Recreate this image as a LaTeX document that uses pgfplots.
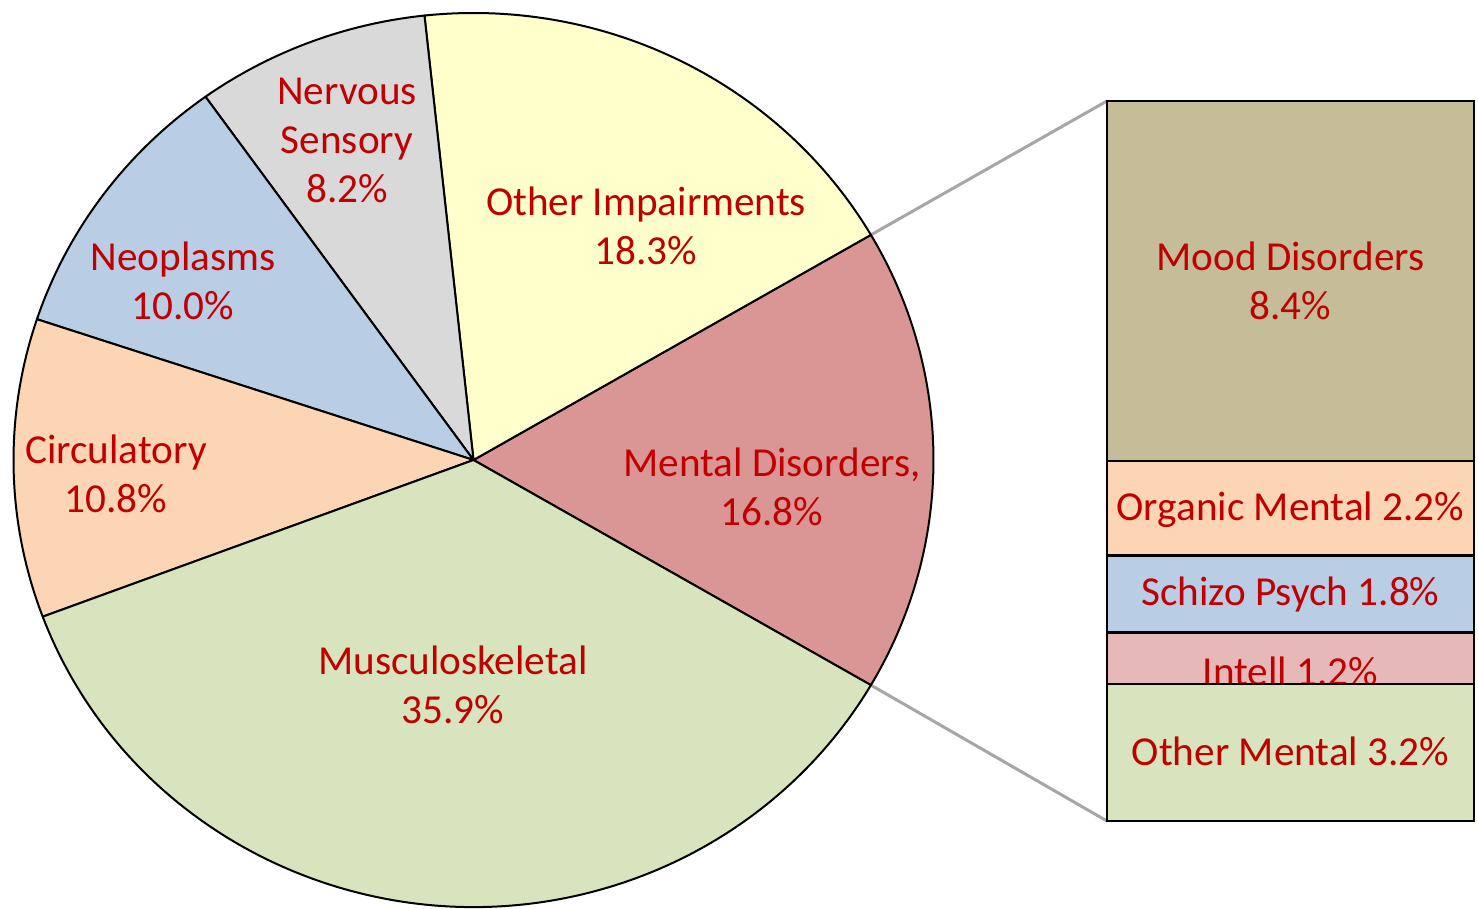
\documentclass[border=0pt]{standalone}
\usepackage{pgfplots}
\usepackage{pgfplotstable}
\pgfplotsset{compat=1.18}
\usepackage{fontspec}
\setmainfont{Carlito}
\definecolor{cMental}{HTML}{D99694}
\definecolor{cOther}{HTML}{FFFFCC}
\definecolor{cNerv}{HTML}{D9D9D9}
\definecolor{cNeo}{HTML}{B9CDE5}
\definecolor{cCirc}{HTML}{FCD5B5}
\definecolor{cMusc}{HTML}{D7E4BD}
\definecolor{cMood}{HTML}{C4BD97}
\definecolor{cOrg}{HTML}{FCD5B5}
\definecolor{cSchizo}{HTML}{B9CDE5}
\definecolor{cIntell}{HTML}{E6B9B8}
\definecolor{cOthM}{HTML}{D7E4BD}
\definecolor{txtred}{HTML}{C00000}
\definecolor{linkgray}{HTML}{A6A6A6}

% pie shares (percent), counter-clockwise starting with Mental Disorders
\pgfplotstableread[col sep=comma]{
label,value,color
Mental Disorders,16.8,cMental
Other Impairments,18.3,cOther
Nervous Sensory,8.2,cNerv
Neoplasms,10.0,cNeo
Circulatory,10.8,cCirc
Musculoskeletal,35.9,cMusc
}\pietable

\tikzset{lbl/.style={text=txtred, align=center, inner sep=0pt,
  font=\fontsize{20.6bp}{24.5bp}\selectfont}}

\begin{document}
\begin{tikzpicture}
\begin{axis}[name=pie, scale only axis, width=739bp, height=454.5bp,
  xmin=0, xmax=1478, ymin=0, ymax=909, y dir=reverse,
  axis lines=none, xtick=\empty, ytick=\empty, clip=false]
  \path (axis cs:0,0) (axis cs:1478,909);
  % connector lines
  \draw[linkgray, line width=1.5bp] (axis cs:870.9,234.9) -- (axis cs:1107,101);
  \draw[linkgray, line width=1.5bp] (axis cs:870.9,685.1) -- (axis cs:1107,821);
  % wedges
  \pgfplotstablegetelem{0}{value}\of\pietable
  \pgfmathsetmacro\pieStart{-\pgfplotsretval*1.8}
  \pgfplotsforeachungrouped \pieIdx in {0,...,5}{%
    \pgfplotstablegetelem{\pieIdx}{value}\of\pietable \let\pieVal\pgfplotsretval
    \pgfplotstablegetelem{\pieIdx}{color}\of\pietable \let\pieCol\pgfplotsretval
    \pgfmathsetmacro\pieEnd{\pieStart+\pieVal*3.6}%
    \pgfmathsetmacro\piePx{473.5+460*cos(\pieStart)}%
    \pgfmathsetmacro\piePy{460-447*sin(\pieStart)}%
    \edef\pieCmd{\noexpand\filldraw[fill=\pieCol, draw=black, line width=1bp, line join=round]
      (axis cs:473.5,460) -- (axis cs:\piePx,\piePy)
      arc[start angle=\pieStart, end angle=\pieEnd, x radius=230bp, y radius=223.5bp] -- cycle;}%
    \pieCmd
    \global\let\pieStart\pieEnd
  }
  % labels
  \node[lbl] at (axis cs:347,140) {Nervous\\Sensory\\8.2\%};
  \node[lbl] at (axis cs:646,226) {Other Impairments\\18.3\%};
  \node[lbl] at (axis cs:183,281) {Neoplasms\\10.0\%};
  \node[lbl] at (axis cs:116,474) {Circulatory\\10.8\%};
  \node[lbl] at (axis cs:772,487) {Mental Disorders,\\16.8\%};
  \node[lbl] at (axis cs:453,685) {Musculoskeletal\\35.9\%};
\end{axis}

\begin{axis}[at={(553.5bp,44bp)}, anchor=south west,
  scale only axis, width=183.5bp, height=360bp,
  xmin=-0.5, xmax=0.5, ymin=0, ymax=16.8,
  axis lines=none, xtick=\empty, ytick=\empty, clip=false,
  ybar stacked, reverse stacked plots=false, bar width=183.5bp]
  \addplot[fill=cOthM, draw=black, line width=1.25bp] coordinates {(0,3.2)};
  \addplot[fill=cIntell, draw=black, line width=1.25bp] coordinates {(0,1.2)};
  \addplot[fill=cSchizo, draw=black, line width=1.25bp] coordinates {(0,1.8)};
  \addplot[fill=cOrg, draw=black, line width=1.25bp] coordinates {(0,2.2)};
  \addplot[fill=cMood, draw=black, line width=1.25bp] coordinates {(0,8.4)};
  \coordinate (lMood) at (axis cs:0,12.6);
  \coordinate (lOrg) at (axis cs:0,7.27);
  \coordinate (lSch) at (axis cs:0,5.28);
  \coordinate (lOth) at (axis cs:0,1.63);
  \coordinate (intA) at (axis cs:-0.5,3.24);
  \coordinate (intB) at (axis cs:0.5,4.4);
  \coordinate (intC) at (axis cs:0,3.50);
\end{axis}
\node[lbl] at (lMood) {Mood Disorders\\8.4\%};
\node[lbl] at (lOrg) {Organic Mental 2.2\%};
\node[lbl] at (lSch) {Schizo Psych 1.8\%};
\node[lbl] at (lOth) {Other Mental 3.2\%};
\begin{scope}
  \clip (intA) rectangle (intB);
  \node[lbl] at (intC) {Intell 1.2\%};
\end{scope}
\pgfresetboundingbox
\path[use as bounding box] (pie.south west) rectangle (pie.north east);
\end{tikzpicture}
\end{document}
